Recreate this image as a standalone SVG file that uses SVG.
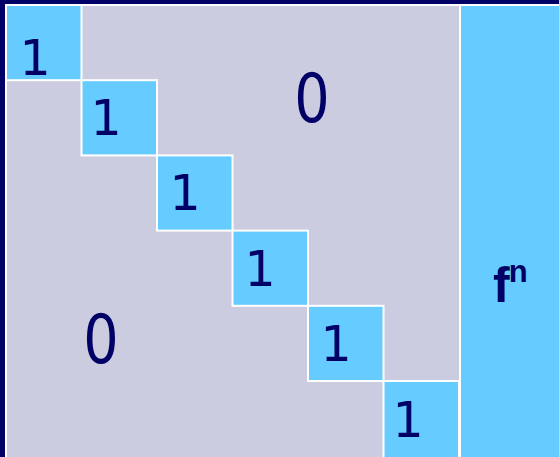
<svg xmlns="http://www.w3.org/2000/svg" width="559" height="457" viewBox="0 0 559 457">
<style>
.sq{fill:#66CCFF;stroke:#FFFFFF;stroke-width:2}
.one{font-family:"DejaVu Sans",sans-serif;font-size:49px;fill:#000066;text-anchor:middle}
.zero{font-family:"DejaVu Sans",sans-serif;font-size:68px;fill:#000066;text-anchor:middle}
.fn{font-family:"Liberation Sans",Arial,sans-serif;font-weight:bold;fill:#000066}
</style>
<rect x="0" y="0" width="559" height="457" fill="#000066"/>
<rect x="5" y="4" width="554" height="453" fill="#FFFFFF"/>
<rect id="matrix" x="7" y="6" width="452" height="451" fill="#CCCCE0"/>
<g id="column">
<rect x="461" y="6" width="98" height="451" fill="#66CCFF"/>
<text class="fn" x="493" y="302" font-size="50">f<tspan font-size="31" dy="-20" dx="-1">n</tspan></text>
</g>
<g id="diag1"><rect class="sq" x="6" y="5" width="75.5" height="75.2"/><text class="one" x="35" y="75">1</text></g>
<g id="diag2"><rect class="sq" x="81.5" y="80.2" width="75.5" height="75.2"/><text class="one" x="106" y="135">1</text></g>
<g id="diag3"><rect class="sq" x="157" y="155.4" width="75.5" height="75.2"/><text class="one" x="185" y="210">1</text></g>
<g id="diag4"><rect class="sq" x="232.5" y="230.6" width="75.5" height="75.2"/><text class="one" x="260" y="286">1</text></g>
<g id="diag5"><rect class="sq" x="308" y="305.8" width="75.5" height="75.2"/><text class="one" x="336" y="361">1</text></g>
<g id="diag6"><rect class="sq" x="383.5" y="381" width="75.5" height="77"/><text class="one" x="408" y="437">1</text></g>
<g id="zeros">
<text class="zero" transform="translate(312,122) scale(0.82,1)" x="0" y="0">0</text>
<text class="zero" transform="translate(101,363) scale(0.82,1)" x="0" y="0">0</text>
</g>
</svg>
